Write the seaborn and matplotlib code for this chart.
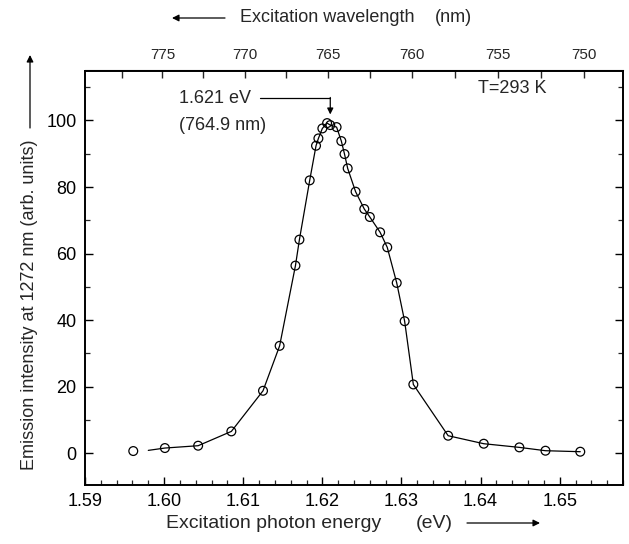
import numpy as np
import pandas as pd
import matplotlib
matplotlib.use("Agg")
import matplotlib.pyplot as plt
from matplotlib.ticker import MultipleLocator
import seaborn as sns

# ---- data ----
energy = [1.5961, 1.6001, 1.6043, 1.6085, 1.6125, 1.6146, 1.6166, 1.6171,
          1.6184, 1.6192, 1.6195, 1.6200, 1.6206, 1.6210, 1.6218, 1.6224,
          1.6228, 1.6232, 1.6242, 1.6253, 1.6260, 1.6273, 1.6282, 1.6294,
          1.6304, 1.6315, 1.6359, 1.6404, 1.6449, 1.6482, 1.6526]
intensity = [0.7, 1.6, 2.3, 6.6, 18.8, 32.3, 56.4, 64.2,
             82.0, 92.4, 94.6, 97.6, 99.2, 98.6, 98.0, 93.8,
             89.9, 85.6, 78.6, 73.4, 71.0, 66.4, 61.9, 51.2,
             39.7, 20.7, 5.3, 2.9, 1.8, 0.8, 0.5]
# fitted guide curve (starts a little right of the first point)
curve_energy = [1.5980] + energy[1:]
curve_intensity = [0.9] + intensity[1:]

x_ticks = [1.59, 1.60, 1.61, 1.62, 1.63, 1.64, 1.65]
y_ticks = [0, 20, 40, 60, 80, 100]
wl_ticks = [775, 770, 765, 760, 755, 750]

peak_label = "1.621 eV"
peak_wl_label = "(764.9 nm)"
peak_energy = 1.621
temp_label = "T=293 K"

HC = 1239.84

sns.set_style("ticks")
plt.rcParams['font.family'] = ['Liberation Sans', 'DejaVu Sans']

W, H = 629, 544
fig = plt.figure(figsize=(W / 100, H / 100), dpi=100)
ax = fig.add_axes([85 / W, (H - 485) / H, (623 - 85) / W, (485 - 70.5) / H])

pts = pd.DataFrame({"E": energy, "I": intensity})
crv = pd.DataFrame({"E": curve_energy, "I": curve_intensity})

sns.lineplot(data=crv, x="E", y="I", ax=ax, color="black", lw=0.9,
             sort=False, estimator=None)
sns.scatterplot(data=pts, x="E", y="I", ax=ax, marker="o", s=40,
                facecolor="none", edgecolor="black", linewidth=0.9, zorder=3)

ax.set_xlim(1.59, 1.658)
ax.set_ylim(-9.5, 115)
ax.set_xticks(x_ticks)
ax.set_xticklabels([f"{v:.2f}" for v in x_ticks])
ax.xaxis.set_minor_locator(MultipleLocator(0.002))
ax.set_yticks(y_ticks)
ax.yaxis.set_minor_locator(MultipleLocator(10))
ax.set_xlabel("")
ax.set_ylabel("")
for s in ax.spines.values():
    s.set_linewidth(1.4)
    s.set_color("black")
ax.tick_params(axis="both", which="major", direction="in", length=6,
               width=1.0, labelsize=13, colors="black", right=True, top=False,
               pad=6)
ax.tick_params(axis="both", which="minor", direction="in", length=3.5,
               width=0.9, right=True, top=False)

sec = ax.secondary_xaxis("top", functions=(lambda e: HC / e, lambda l: HC / l))
sec.set_xticks(wl_ticks)
sec.xaxis.set_minor_locator(MultipleLocator(2.5))
sec.tick_params(axis="x", which="major", direction="in", length=6, width=1.0,
                labelsize=11, pad=6)
sec.tick_params(axis="x", which="minor", direction="in", length=6, width=1.0)

# annotations in data space
ax.text(1.6019, 106.7, peak_label, fontsize=13, va="center", ha="left")
ax.text(1.6019, 98.6, peak_wl_label, fontsize=13, va="center", ha="left")
ax.plot([1.6121, peak_energy], [106.7, 106.7], color="black", lw=0.9)
ax.annotate("", xy=(peak_energy, 101.8), xytext=(peak_energy, 106.9),
            arrowprops=dict(arrowstyle="-|>", color="black", lw=0.9,
                            mutation_scale=9, shrinkA=0, shrinkB=0))
ax.text(1.6397, 109.6, temp_label, fontsize=13, va="center", ha="left")

# axis labels with arrows (figure pixel positions)
fig.text(166 / W, (H - 523) / H, "Excitation photon energy", fontsize=14,
         ha="left", va="center")
fig.text(416 / W, (H - 523) / H, "(eV)", fontsize=14, ha="left", va="center")
ax.annotate("", xy=(540, H - 523), xytext=(467, H - 523),
            xycoords="figure pixels", textcoords="figure pixels",
            arrowprops=dict(arrowstyle="-|>", color="black", lw=0.9,
                            mutation_scale=10, shrinkA=0, shrinkB=0))

fig.text(240 / W, (H - 18) / H, "Excitation wavelength", fontsize=13,
         ha="left", va="center")
fig.text(435 / W, (H - 18) / H, "(nm)", fontsize=13, ha="left", va="center")
ax.annotate("", xy=(172, H - 18), xytext=(225, H - 18),
            xycoords="figure pixels", textcoords="figure pixels",
            arrowprops=dict(arrowstyle="-|>", color="black", lw=0.9,
                            mutation_scale=10, shrinkA=0, shrinkB=0))

fig.text(30 / W, (H - 305) / H, "Emission intensity at 1272 nm (arb. units)",
         fontsize=13, rotation=90, ha="center", va="center")
ax.annotate("", xy=(30, H - 55), xytext=(30, H - 128),
            xycoords="figure pixels", textcoords="figure pixels",
            arrowprops=dict(arrowstyle="-|>", color="black", lw=0.9,
                            mutation_scale=10, shrinkA=0, shrinkB=0))

fig.savefig("out.png", dpi=100)
